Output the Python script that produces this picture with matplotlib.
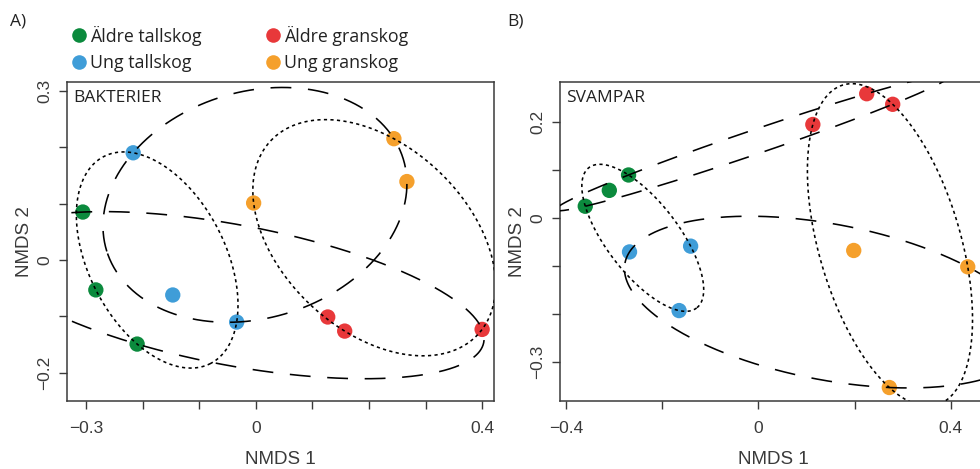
import numpy as np
import matplotlib
matplotlib.use('Agg')
import matplotlib.pyplot as plt
from matplotlib.lines import Line2D

# NMDS scores
# panel A (BAKTERIER)
a_aldre_tall_x = [-0.306, -0.283, -0.210]
a_aldre_tall_y = [0.085, -0.053, -0.149]
a_ung_tall_x = [-0.217, -0.147, -0.034]
a_ung_tall_y = [0.190, -0.062, -0.110]
a_aldre_gran_x = [0.127, 0.157, 0.400]
a_aldre_gran_y = [-0.101, -0.126, -0.123]
a_ung_gran_x = [-0.004, 0.244, 0.267]
a_ung_gran_y = [0.101, 0.215, 0.139]

# panel B (SVAMPAR)
b_aldre_tall_x = [-0.360, -0.310, -0.270]
b_aldre_tall_y = [0.024, 0.057, 0.089]
b_ung_tall_x = [-0.268, -0.141, -0.165]
b_ung_tall_y = [-0.071, -0.059, -0.193]
b_aldre_gran_x = [0.113, 0.225, 0.279]
b_aldre_gran_y = [0.194, 0.258, 0.236]
b_ung_gran_x = [0.198, 0.435, 0.272]
b_ung_gran_y = [-0.068, -0.102, -0.353]

groups = ['Äldre tallskog', 'Ung tallskog', 'Äldre granskog', 'Ung granskog']
colors = ['#0b8a3d', '#3f9dd8', '#e8383a', '#f5a02c']

plt.rcParams['font.family'] = ['Liberation Sans', 'DejaVu Sans']
plt.rcParams['lines.scale_dashes'] = False
INK = '#3a3a3a'


def ehull(x, y, tol=1e-10):
    # minimum volume enclosing ellipse (Khachiyan), like cluster::ellipsoidhull
    P = np.column_stack([x, y]).astype(float)
    n = len(P)
    Q = np.vstack([P.T, np.ones(n)])
    u = np.full(n, 1.0 / n)
    for _ in range(200000):
        X = Q @ np.diag(u) @ Q.T
        M = np.sum(Q * np.linalg.solve(X, Q), axis=0)
        j = np.argmax(M)
        step = (M[j] - 3.0) / (3.0 * (M[j] - 1.0))
        new = (1 - step) * u
        new[j] += step
        done = np.linalg.norm(new - u) < tol
        u = new
        if done:
            break
    c = P.T @ u
    S = (P - c).T @ np.diag(u) @ (P - c)
    A = np.linalg.inv(S) / 2.0
    vals, vecs = np.linalg.eigh(A)
    t = np.linspace(0, 2 * np.pi, 600)
    circ = np.vstack([np.cos(t) / np.sqrt(vals[0]), np.sin(t) / np.sqrt(vals[1])])
    pts = vecs @ circ + c[:, None]
    return pts[0], pts[1]


def panel(ax, data, xlim, ylim, xt, xlab, yt, ylab, title):
    (at_x, at_y), (ut_x, ut_y), (ag_x, ag_y), (ug_x, ug_y) = data
    for (gx, gy), col in zip(data, colors):
        ax.scatter(gx, gy, s=122, color=col, edgecolors='none', zorder=2)
    # dotted: tall vs gran ; dashed: aldre vs ung
    dot = (0, (2.3, 2.4))
    dash = (0, (15, 12))
    for ex, ey, ls in [
        (at_x + ut_x, at_y + ut_y, dot),
        (ag_x + ug_x, ag_y + ug_y, dot),
        (at_x + ag_x, at_y + ag_y, dash),
        (ut_x + ug_x, ut_y + ug_y, dash),
    ]:
        px, py = ehull(ex, ey)
        ax.plot(px, py, color='black', lw=1.15, linestyle=ls, zorder=3)
    ax.set_xlim(*xlim)
    ax.set_ylim(*ylim)
    ax.set_xticks(xt)
    ax.set_xticklabels(xlab)
    ax.set_yticks(yt)
    ax.set_yticklabels(ylab, rotation=90, va='center', ha='right')
    ax.tick_params(direction='out', length=5.8, width=1.0, colors=INK,
                   labelsize=12.5)
    ax.tick_params(axis='x', pad=9)
    ax.tick_params(axis='y', pad=5)
    for s in ax.spines.values():
        s.set_color(INK)
        s.set_linewidth(1.1)
    ax.set_xlabel('NMDS 1', fontsize=13.5, color=INK, labelpad=11)
    ax.set_ylabel('NMDS 2', fontsize=13.5, color=INK, labelpad=3)
    ax.text(0.014, 0.975, title, transform=ax.transAxes, ha='left', va='top',
            fontsize=12.5, family='Open Sans', color='#222222')


def lab(vals, show):
    out = []
    for v in vals:
        if any(abs(v - s) < 1e-9 for s in show):
            out.append(('%g' % v).replace('-', '\u2212'))
        else:
            out.append('')
    return out


fig = plt.figure(figsize=(9.8, 4.69), dpi=100, facecolor='white')
axA = fig.add_axes([67 / 980, 68.5 / 469, 427 / 980, 318.8 / 469])
axB = fig.add_axes([560 / 980, 68.5 / 469, 427 / 980, 318.8 / 469])

xtA = [round(v, 1) for v in np.arange(-0.3, 0.41, 0.1)]
ytA = [round(v, 1) for v in np.arange(-0.2, 0.31, 0.1)]
panel(axA,
      [(a_aldre_tall_x, a_aldre_tall_y), (a_ung_tall_x, a_ung_tall_y),
       (a_aldre_gran_x, a_aldre_gran_y), (a_ung_gran_x, a_ung_gran_y)],
      (-0.334, 0.421), (-0.249, 0.316),
      xtA, lab(xtA, [-0.3, 0.0, 0.4]), ytA, lab(ytA, [-0.2, 0.0, 0.3]),
      'BAKTERIER')

xtB = [round(v, 1) for v in np.arange(-0.4, 0.41, 0.2)]
ytB = [round(v, 1) for v in np.arange(-0.3, 0.21, 0.1)]
panel(axB,
      [(b_aldre_tall_x, b_aldre_tall_y), (b_ung_tall_x, b_ung_tall_y),
       (b_aldre_gran_x, b_aldre_gran_y), (b_ung_gran_x, b_ung_gran_y)],
      (-0.4125, 0.475), (-0.380, 0.283),
      xtB, lab(xtB, [-0.4, 0.0, 0.4]), ytB, lab(ytB, [-0.3, 0.0, 0.2]),
      'SVAMPAR')

# panel letters
fig.text(10 / 980, 1 - 22 / 469, 'A)', fontsize=12.5, family='Open Sans',
         va='center', color='#222222')
fig.text(507 / 980, 1 - 22 / 469, 'B)', fontsize=12.5, family='Open Sans',
         va='center', color='#222222')

# legend
leg_pos = [(79, 35), (79, 62), (273, 35), (273, 62)]
for (lx, ly), g, col in zip(leg_pos, groups, colors):
    fig.add_artist(Line2D([lx / 980], [1 - ly / 469], transform=fig.transFigure,
                          marker='o', markersize=10.5, color=col,
                          markeredgewidth=0, linestyle='none'))
    fig.text((lx + 11) / 980, 1 - (ly + 1) / 469, g, fontsize=12.8,
             family='Open Sans', va='center', color='#222222')

fig.savefig('out.png', dpi=100, facecolor='white')
